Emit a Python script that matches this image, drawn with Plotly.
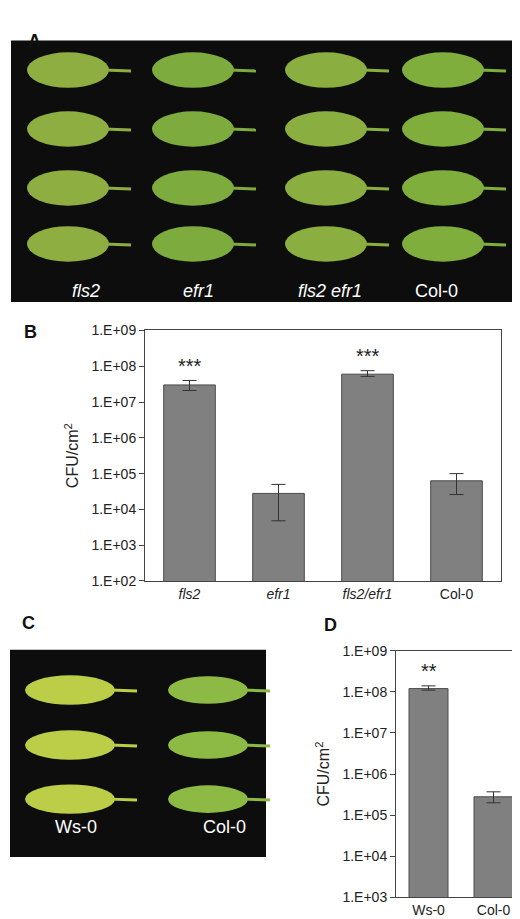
import plotly.graph_objects as go
import math

W, H = 520, 919
def px(x): return x / W
def py(y): return 1 - y / H

# Panel B data
b_cats = ["fls2", "efr1", "fls2/efr1", "Col-0"]
b_ticktext = ["<i>fls2</i>", "<i>efr1</i>", "<i>fls2/efr1</i>", "Col-0"]
b_vals = [3.0e7, 2.8e4, 6.0e7, 6.3e4]
b_upper = [4.0e7, 5.0e4, 7.5e7, 1.0e5]
b_lower = [2.1e7, 4.8e3, 5.2e7, 2.6e4]
b_sig = ["***", "", "***", ""]

# Panel D data
d_cats = ["Ws-0", "Col-0"]
d_vals = [1.2e8, 2.8e5]
d_upper = [1.4e8, 3.7e5]
d_lower = [1.1e8, 2.0e5]
d_sig = ["**", ""]

font = "Liberation Sans, Arial, sans-serif"
fig = go.Figure()

def bars(cats, vals, up, lo, xa, ya, width):
    fig.add_trace(go.Bar(
        x=cats, y=vals, xaxis=xa, yaxis=ya, width=width,
        marker=dict(color="#808080", line=dict(color="#4a4a4a", width=1)),
        error_y=dict(type="data", symmetric=False,
                     array=[u - v for u, v in zip(up, vals)],
                     arrayminus=[v - l for v, l in zip(vals, lo)],
                     color="#333333", thickness=1, width=7),
        showlegend=False))

bars(b_cats, b_vals, b_upper, b_lower, "x", "y", 0.58)
bars(d_cats, d_vals, d_upper, d_lower, "x2", "y2", 0.6)

def ytick(lo, hi):
    vals = [10 ** k for k in range(lo, hi + 1)]
    return vals, ["1.E+%02d" % k for k in range(lo, hi + 1)]

bv, bt = ytick(2, 9)
dv, dt = ytick(3, 9)
axcommon = dict(showline=True, linecolor="#444", linewidth=1, mirror=True,
                showgrid=False, zeroline=False, tickfont=dict(size=14, color="#222", family=font))
fig.update_layout(
    width=W, height=H, margin=dict(l=0, r=0, t=0, b=0),
    paper_bgcolor="white", plot_bgcolor="white",
    font=dict(family=font, color="#222"),
    xaxis=dict(domain=[px(137), px(493)], anchor="y", tickvals=b_cats, ticktext=b_ticktext,
               ticks="", **axcommon),
    yaxis=dict(domain=[py(575), py(320)], anchor="x", type="log", range=[2, 9],
               tickvals=bv, ticktext=bt, ticks="outside", ticklen=5, tickcolor="#444",
               title=dict(text="CFU/cm<sup>2</sup>", font=dict(size=16), standoff=8), **axcommon),
    xaxis2=dict(domain=[px(388), px(518)], anchor="y2", tickvals=d_cats, ticks="", **axcommon),
    yaxis2=dict(domain=[py(897), py(646)], anchor="x2", type="log", range=[3, 9],
                tickvals=dv, ticktext=dt, ticks="outside", ticklen=5, tickcolor="#444",
                title=dict(text="CFU/cm<sup>2</sup>", font=dict(size=16), standoff=8), **axcommon),
)

for c, u, s in zip(b_cats, b_upper, b_sig):
    if s:
        fig.add_annotation(x=c, y=math.log10(u) + 0.05, xref="x", yref="y", text=s,
                           showarrow=False, yanchor="bottom", font=dict(size=20))
for c, u, s in zip(d_cats, d_upper, d_sig):
    if s:
        fig.add_annotation(x=c, y=math.log10(u) + 0.05, xref="x2", yref="y2", text=s,
                           showarrow=False, yanchor="bottom", font=dict(size=20))

shapes = []
def rect(x0, y0, x1, y1, color):
    shapes.append(dict(type="rect", xref="paper", yref="paper", x0=px(x0), x1=px(x1),
                       y0=py(y1), y1=py(y0), fillcolor=color, line=dict(width=0), layer="below"))
def leaf(cx, cy, w, h, color):
    shapes.append(dict(type="line", xref="paper", yref="paper", x0=px(cx + w / 2 - 5), x1=px(cx + w / 2 + 22),
                       y0=py(cy), y1=py(cy + 1), line=dict(color=color, width=3)))
    shapes.append(dict(type="circle", xref="paper", yref="paper", x0=px(cx - w / 2), x1=px(cx + w / 2),
                       y0=py(cy + h / 2), y1=py(cy - h / 2), fillcolor=color, line=dict(width=0)))

rect(3, 25, 517, 291, "#0d0d0d")
rect(2, 645, 258, 856, "#0d0d0d")
a_cols = [60, 185, 318, 435]
a_rows = [55, 115, 175, 232]
a_colors = ["#8fae42", "#7eab3e", "#8aae40", "#7fae3c"]
for cx, col in zip(a_cols, a_colors):
    for cy in a_rows:
        leaf(cx, cy, 82, 36, col)
for cy in [686, 742, 797]:
    leaf(62, cy, 90, 30, "#bccd48")
    leaf(200, cy, 80, 28, "#8dba45")
fig.update_layout(shapes=shapes)

def txt(x, y, s, size, color="#111", bold=False):
    fig.add_annotation(x=px(x), y=py(y), xref="paper", yref="paper", text=("<b>%s</b>" % s) if bold else s,
                       showarrow=False, font=dict(size=size, color=color, family=font))
txt(18, 13, "A", 18, bold=True)
txt(14, 322, "B", 18, bold=True)
txt(12, 630, "C", 18, bold=True)
txt(322, 632, "D", 18, bold=True)
for x, s in zip([62, 190, 322, 452], ["<i>fls2</i>", "<i>efr1</i>", "<i>fls2 efr1</i>", "Col-0"]):
    txt(x, 268, s, 18, "white")
txt(45, 838, "Ws-0", 18, "white")
txt(216, 838, "Col-0", 18, "white")

fig.write_html("out.html")
